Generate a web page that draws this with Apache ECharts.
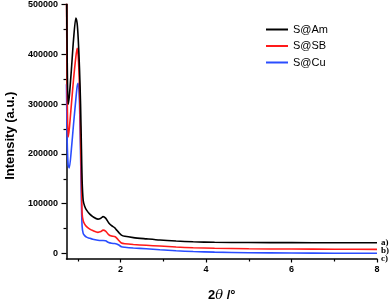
<!DOCTYPE html>
<html>
<head>
<meta charset="utf-8">
<script src="https://cdn.jsdelivr.net/npm/echarts@6/dist/echarts.min.js"></script>
<style>
  html, body { margin: 0; padding: 0; background: #fff; }
  #chart { width: 392px; height: 301px; }
</style>
</head>
<body>
<div id="chart"></div>
<script>
// 2theta positions (degrees)
const twoTheta = [0.735, 0.75, 0.773, 0.8, 0.85, 0.9, 0.954, 0.984, 1.01, 1.04, 1.064, 1.085, 1.10, 1.125, 1.16, 1.205, 1.28, 1.35, 1.47, 1.54, 1.59, 1.65, 1.72, 1.79, 1.86, 1.91, 1.96, 2.02, 2.1, 2.3, 2.6, 2.92, 3.3, 3.7, 4.2, 5, 6, 7, 8];

// intensity for each sample
const amValues = [540000, 400000, 300000, 315000, 370000, 430000, 473000, 462000, 430000, 370000, 300000, 210000, 148000, 107000, 95000, 87000, 79000, 74000, 69000, 71000, 74000, 71000, 62000, 56000, 52000, 47000, 42000, 37000, 34500, 32000, 29500, 27000, 25000, 23500, 22500, 22000, 21800, 21700, 21700];
const sbValues = [530000, 330000, 234000, 250000, 300000, 350000, 395000, 412000, 395000, 330000, 230000, 140000, 81000, 66000, 59000, 54000, 49000, 46000, 42500, 44000, 47000, 45000, 38000, 35000, 34000, 31000, 26000, 21000, 19500, 18000, 16500, 15000, 13000, 11500, 10500, 9500, 9000, 8600, 8400];
const cuValues = [340000, 230000, 178000, 172000, 210000, 260000, 310000, 335000, 342000, 300000, 200000, 100000, 55000, 40500, 36000, 33000, 30500, 28500, 26500, 26000, 26000, 25500, 22000, 20500, 20000, 19000, 17000, 13600, 12500, 11000, 9500, 7500, 5500, 4000, 2800, 1600, 900, 600, 400];

const seriesNames = ['S@Am', 'S@SB', 'S@Cu'];
const endTags = ['a)', 'b)', 'c)'];
const colors = ['#000000', '#ff1a1a', '#2a4dff'];

const yMajor = [0, 100000, 200000, 300000, 400000, 500000];
const yMinor = [50000, 150000, 250000, 350000, 450000];
const xMajor = [2, 4, 6, 8];
const xMinor = [1, 3, 5, 7];

const chart = echarts.init(document.getElementById('chart'));

const pairs = vals => twoTheta.map((x, i) => [x, vals[i]]);
const allValues = [amValues, sbValues, cuValues];
const tagOffsets = [[0, 0], [0, 1.5], [0, 5]];

const xRange = { min: 0.735, max: 8 };
const yRange = { min: -11000, max: 500000 };

const option = {
  animation: false,
  textStyle: { fontFamily: 'Liberation Sans, Arial, sans-serif' },
  grid: { left: 66.5, right: 15, top: 4.5, bottom: 42, containLabel: false, outerBoundsMode: 'none' },
  legend: {
    orient: 'vertical',
    left: 261,
    top: 19,
    icon: 'rect',
    itemWidth: 22,
    itemHeight: 2,
    itemGap: 5.5,
    textStyle: { fontSize: 11, color: '#000' },
    data: seriesNames
  },
  xAxis: [{
    type: 'value',
    ...xRange,
    name: '{b|2}{i|θ}{b| /°}',
    nameLocation: 'middle',
    nameGap: 30,
    nameTextStyle: {
      rich: {
        b: { fontSize: 13, fontWeight: 'bold', fontStyle: 'normal', color: '#000' },
        i: { fontSize: 13, fontStyle: 'italic', fontWeight: 'normal', color: '#000', fontFamily: 'DejaVu Serif' }
      }
    },
    axisLine: { onZero: false, lineStyle: { color: '#000', width: 1.5 } },
    axisTick: { customValues: xMajor, length: 3.5, lineStyle: { color: '#000', width: 1.2 } },
    axisLabel: { customValues: xMajor, fontSize: 9, fontWeight: 'bold', color: '#000', margin: 6 },
    splitLine: { show: false }
  }, {
    type: 'value',
    ...xRange,
    position: 'bottom',
    axisLine: { show: false, onZero: false },
    axisTick: { customValues: xMinor, length: 2.5, lineStyle: { color: '#000', width: 1.2 } },
    axisLabel: { show: false },
    splitLine: { show: false }
  }],
  yAxis: [{
    type: 'value',
    ...yRange,
    name: 'Intensity (a.u.)',
    nameLocation: 'middle',
    nameGap: 45,
    nameTextStyle: { fontSize: 13, fontWeight: 'bold', color: '#000', padding: [0, 8, 0, 0] },
    axisLine: { show: true, onZero: false, lineStyle: { color: '#000', width: 1.5 } },
    axisTick: { show: true, customValues: yMajor, length: 5, lineStyle: { color: '#000', width: 1.2 } },
    axisLabel: { customValues: yMajor, formatter: v => String(v), fontSize: 9, fontWeight: 'bold', color: '#000', margin: 8.5 },
    splitLine: { show: false }
  }, {
    type: 'value',
    ...yRange,
    position: 'left',
    axisLine: { show: false, onZero: false },
    axisTick: { show: true, customValues: yMinor, length: 3, lineStyle: { color: '#000', width: 1.2 } },
    axisLabel: { show: false },
    splitLine: { show: false }
  }],
  series: seriesNames.map((name, k) => ({
    name: name,
    type: 'line',
    data: pairs(allValues[k]),
    smooth: 0.25,
    showSymbol: false,
    color: colors[k],
    lineStyle: { width: 1.6, color: colors[k] },
    z: 10 - k,
    endLabel: {
      show: true,
      formatter: endTags[k],
      distance: 4,
      offset: tagOffsets[k],
      fontSize: 9,
      fontWeight: 'bold',
      fontFamily: 'Liberation Serif, serif',
      color: '#000'
    }
  }))
};

chart.setOption(option);
</script>
</body>
</html>
